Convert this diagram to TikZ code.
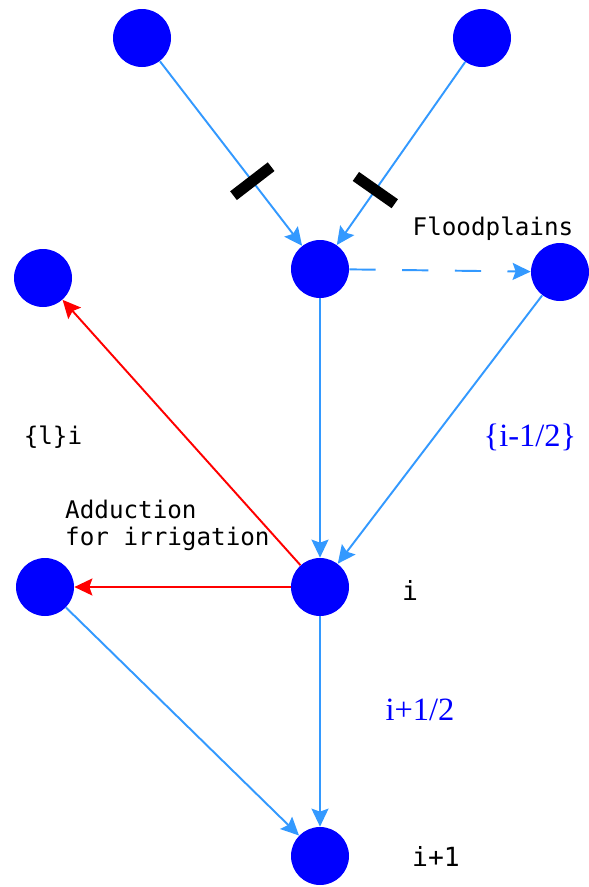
\documentclass[tikz,border=0pt]{standalone}
\usepackage{fontspec}
\setmonofont{DejaVu Sans Mono}
\newfontfamily\labelserif{Liberation Serif}
\usepackage{xcolor}
\usepackage{tikz}
\usetikzlibrary{arrows.meta}

\definecolor{flowblue}{RGB}{51,153,255}
\definecolor{nodeblue}{RGB}{0,0,255}

\begin{document}
\begin{tikzpicture}[
    reach/.style={circle, fill=nodeblue, draw=none, minimum size=1.16cm, inner sep=0pt},
    flow_line/.style={line width=1.1pt, draw=flowblue, -{Stealth[length=0.36cm, width=0.34cm, inset=0.06cm]}},
    take_line/.style={line width=1.1pt, draw=red, -{Stealth[length=0.36cm, width=0.34cm, inset=0.06cm, red]}},
    weir/.style={rectangle, fill=black, draw=none, minimum width=0.22cm, minimum height=0.95cm, inner sep=0pt},
    mono_label/.style={font=\ttfamily\fontsize{13.8}{15.3}\selectfont, text=black},
    idx_label/.style={font=\ttfamily\fontsize{15}{17}\selectfont, text=black},
    half_label/.style={font=\labelserif\fontsize{18.5}{21}\selectfont, text=nodeblue}
]
    \useasboundingbox (0, 0) rectangle (11.78, -17.74);

    % Reaches
    \node (up_left) [reach] at (2.84, -0.76) {};
    \node (up_right) [reach] at (9.64, -0.76) {};
    \node (junction) [reach] at (6.40, -5.38) {};
    \node (irr_top) [reach] at (0.86, -5.56) {};
    \node (flood) [reach] at (11.20, -5.44) {};
    \node (node_i) [reach] at (6.40, -11.74) {};
    \node (irr_left) [reach] at (0.90, -11.74) {};
    \node (node_next) [reach] at (6.40, -17.12) {};

    % Labels
    \node (flood_label) [mono_label] at (9.86, -4.58) {Floodplains};
    \node (irr_label) [mono_label, anchor=west, align=left] at (1.18, -10.50) {Adduction\\for irrigation};
    \node (li_label) [mono_label] at (1.06, -8.74) {\{l\}i};
    \node (i_label) [idx_label] at (8.20, -11.80) {i};
    \node (next_label) [idx_label] at (8.72, -17.12) {i+1};
    \node (prev_half) [half_label] at (10.60, -8.74) {\{i-1/2\}};
    \node (next_half) [half_label] at (8.40, -14.20) {i+1/2};

    % Inflows with weirs
    \draw [flow_line] (up_left) -- node [weir, pos=0.65, sloped] {} (junction);
    \draw [flow_line] (up_right) -- node [weir, pos=0.70, sloped] {} (junction);

    % Main channel
    \draw [flow_line, dash pattern=on 15pt off 15pt] (junction) -- (flood);
    \draw [flow_line] (junction) -- (node_i);
    \draw [flow_line] (flood) -- (node_i);
    \draw [flow_line] (node_i) -- (node_next);
    \draw [flow_line] (irr_left) -- (node_next);

    % Withdrawals
    \draw [take_line] (node_i) -- (irr_top);
    \draw [take_line] (node_i) -- (irr_left);
\end{tikzpicture}
\end{document}
